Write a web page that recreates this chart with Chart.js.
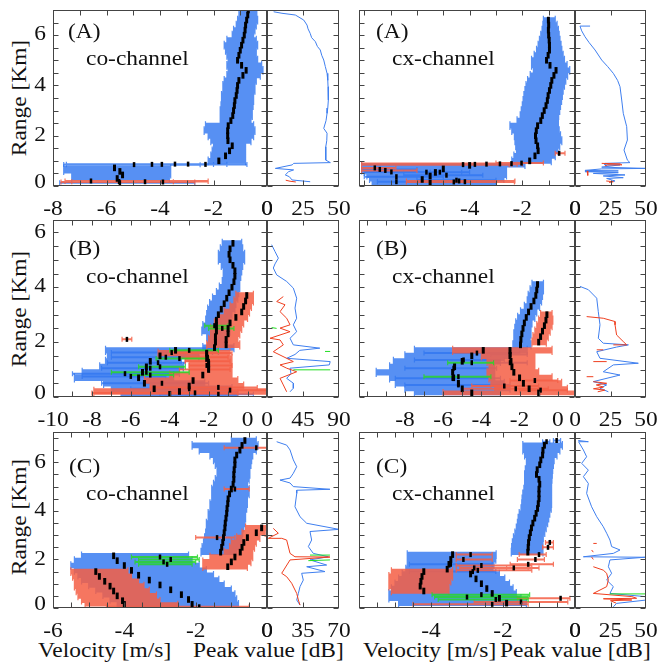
<!DOCTYPE html>
<html>
<head>
<meta charset="utf-8">
<script src="https://cdn.jsdelivr.net/npm/chart.js@4.4.1/dist/chart.umd.min.js"></script>
<style>
  body { margin: 0; background: #fff; }
  #wrap { position: relative; width: 661px; height: 669px; overflow: hidden; font-family: "Liberation Serif", serif; }
  #wrap canvas { position: absolute; left: 0; top: 0; }
  .t { position: absolute; font-size: 20px; line-height: 22px; color: #111; white-space: nowrap;
       transform: scaleX(1.17); transform-origin: left center; }
  .yt { position: absolute; font-size: 20px; line-height: 22px; color: #111; white-space: nowrap;
        width: 140px; text-align: center; transform: rotate(-90deg) scaleX(1.17); }
</style>
</head>
<body>
<div id="wrap">
  <div class="yt" style="left:-51px;top:87px">Range [Km]</div>
  <div class="yt" style="left:-51px;top:298px">Range [Km]</div>
  <div class="yt" style="left:-51px;top:506px">Range [Km]</div>
  <div class="t" style="left:38px;top:639px">Velocity [m/s]</div>
  <div class="t" style="left:193px;top:639px">Peak value [dB]</div>
  <div class="t" style="left:363px;top:639px">Velocity [m/s]</div>
  <div class="t" style="left:500px;top:639px">Peak value [dB]</div>
</div>
<script>
// rows are [range km, mean velocity, lower end, upper end]
// peak profiles are [peak dB, range km], null = gap

// ---- (A) co-channel ----
const aCoBlue = [
  [7.0,-0.7,-1.0,-0.4],[6.8,-0.72,-1.05,-0.38],[6.6,-0.76,-1.1,-0.35],[6.4,-0.8,-1.15,-0.4],
  [6.2,-0.82,-1.25,-0.45],[6.0,-0.85,-1.3,-0.5],[5.8,-0.9,-1.5,-0.4],[5.6,-0.95,-1.6,-0.35],
  [5.4,-1.0,-1.55,-0.4],[5.2,-1.05,-1.5,-0.4],[5.0,-1.1,-1.45,-0.35],[4.8,-0.95,-1.5,-0.2],
  [4.6,-0.78,-1.45,-0.15],[4.4,-0.9,-1.5,-0.25],[4.2,-1.05,-1.6,-0.4],[4.0,-1.1,-1.65,-0.45],
  [3.8,-1.12,-1.65,-0.45],[3.6,-1.15,-1.7,-0.5],[3.4,-1.2,-1.7,-0.5],[3.2,-1.22,-1.72,-0.52],
  [3.0,-1.25,-1.75,-0.55],[2.8,-1.28,-1.75,-0.55],[2.6,-1.35,-1.75,-0.6],[2.4,-1.45,-2.3,-0.5],
  [2.2,-1.47,-2.35,-0.45],[2.0,-1.47,-2.2,-0.5],[1.8,-1.46,-2.1,-0.6],[1.6,-1.3,-2.0,-0.8],
  [1.4,-1.4,-2.05,-0.8],[1.2,-1.55,-2.1,-0.8],[1.0,-1.8,-2.2,-0.8]
];
const aCoBlueLow = [[0.72,-5.7,-7.6,-3.6],[0.58,-5.5,-7.6,-3.6],[0.44,-5.4,-7.3,-3.6],[0.30,-5.6,-7.3,-3.65]];
const aCoBlueSp = [
  [0.86,-2.3,-7.6,-0.75],[0.87,-2.95,-7.5,-1.5],[0.87,-3.44,-7.5,-1.5],[0.86,-3.93,-7.5,-1.5],
  [0.86,-4.3,-7.5,-2.0],[0.85,-4.97,-7.5,-2.5],[0.13,-5.5,-7.75,-2.7]
];
const aCoRedSp = [[0.2,-6.58,-7.55,-2.2],[0.18,-5.53,-7.55,-2.2],[0.17,-4.56,-7.3,-3.5],[0.16,-3.89,-7.7,-2.7]];
const aCoPeakBlue = [
  [4.6,6.93],[10.4,6.87],[19.7,6.8],[25.5,6.6],[27.8,6.4],[28.5,6.25],[30,6.07],[31,5.9],[33.6,5.74],
  [35,5.55],[37,5.41],[38,5.2],[39.4,5.01],[40.5,4.75],[41.7,4.48],[42.2,4.2],[42.4,3.95],[42.6,3.7],
  [42.6,3.42],[42.2,3.1],[41.7,2.89],[41,2.6],[39.4,2.29],[41.7,2.1],[41.5,1.8],[40.8,1.56],[40.8,1.3],
  [40.8,1.03],[44,0.93],[18.5,0.9],[17.5,0.84],[5.8,0.70],[18.5,0.64],[15,0.57],[12.7,0.44],[15.5,0.37],
  [17.4,0.24],[30,0.17]
];
const aCoPeakRed = [[13,0.23],[16,0.19],[20,0.16]];

// ---- (A) cx-channel ----
const aCxBlue = [
  [6.6,-1.01,-1.2,-0.75],[6.4,-1.0,-1.22,-0.68],[6.2,-1.01,-1.25,-0.63],[6.0,-1.0,-1.3,-0.6],
  [5.8,-0.98,-1.35,-0.57],[5.6,-0.97,-1.4,-0.53],[5.4,-0.97,-1.46,-0.5],[5.2,-1.02,-1.55,-0.45],
  [5.0,-1.08,-1.65,-0.4],[4.8,-0.95,-1.65,-0.3],[4.6,-0.72,-1.58,-0.2],[4.4,-0.8,-1.7,-0.28],
  [4.2,-0.88,-1.8,-0.35],[4.0,-0.92,-1.86,-0.4],[3.8,-0.97,-1.9,-0.45],[3.6,-1.02,-1.94,-0.48],
  [3.4,-1.05,-1.97,-0.51],[3.2,-1.1,-2.0,-0.55],[3.0,-1.17,-2.04,-0.58],[2.8,-1.24,-2.08,-0.62],
  [2.6,-1.3,-2.2,-0.63],[2.4,-1.42,-2.47,-0.63],[2.2,-1.47,-2.4,-0.6],[2.0,-1.5,-2.3,-0.55],
  [1.8,-1.48,-2.28,-0.5],[1.6,-1.42,-2.25,-0.58],[1.4,-1.4,-2.22,-0.65],[1.2,-1.52,-2.32,-0.75],
  [1.0,-1.72,-2.4,-0.9]
];
const aCxBlueLow = [[0.82,-4.0,-8.1,-1.9],[0.68,-5.0,-8.1,-2.6],[0.54,-5.3,-8.0,-2.6],[0.40,-5.5,-7.9,-2.6],[0.26,-5.8,-7.8,-2.7],[0.12,-5.5,-7.7,-3.0]];
const aCxBlueSp = [
  [0.66,-7.41,-8.1,-6.0],[0.56,-6.97,-8.1,-5.5],[0.37,-6.78,-8.0,-5.0],[0.55,-5.64,-7.0,-4.3],
  [0.55,-5.13,-6.5,-4.0],[0.43,-4.88,-6.5,-3.5],[0.23,-4.5,-6.0,-3.0],[0.17,-4.18,-6.0,-3.0],[0.17,-6.78,-7.5,-5.5]
];
const aCxRedSp = [
  [0.91,-2.03,-3.0,-1.2],[0.89,-2.41,-8.1,-2.0],[0.88,-2.85,-8.1,-2.0],[0.87,-3.36,-8.1,-2.2],
  [0.86,-3.8,-8.1,-2.4],[0.85,-4.25,-8.1,-2.5],[0.72,-7.6,-8.1,-6.8],[0.62,-7.2,-8.1,-6.0],
  [0.2,-4.4,-6.4,-2.28],[0.16,-4.6,-6.4,-2.3],[1.3,-0.6,-0.75,-0.38]
];
const aCxPeakBlue = [
  [10.6,6.36],[3.5,6.36],[4.7,6.17],[7,5.94],[10,5.7],[14.1,5.41],[18.8,5.01],[23,4.75],[27,4.48],
  [30,4.2],[31.7,3.95],[32.9,3.42],[34,2.89],[36.4,2.36],[36.9,1.83],[34.5,1.43],[36.9,1.03],[38.7,0.93],
  [21.1,0.9],[21.1,0.84],[31.7,0.84],[18.8,0.75],[50,0.70],[18.8,0.68],[7,0.62],[30.5,0.60],[7,0.57],
  [30.5,0.53],[12.9,0.50],[35.2,0.44],[19.9,0.40],[34,0.33],[22.3,0.30],[28.2,0.20],[25,0.17]
];
const aCxPeakRed = [[18.8,0.90],[31.7,0.88],[33,0.84],[23,0.84],[21,0.80],null,[8.5,0.6],[9,0.5],[9,0.42],null,[22,0.2],[27,0.17],[24,0.14]];

// ---- (B) co-channel ----
const bCoBlue = [
  [5.6,-0.75,-1.3,-0.3],[5.4,-0.9,-1.4,-0.25],[5.2,-0.95,-1.5,-0.15],[5.0,-0.9,-1.5,-0.15],
  [4.8,-0.75,-1.35,-0.25],[4.6,-0.65,-1.25,-0.3],[4.4,-0.65,-1.25,-0.35],[4.2,-0.7,-1.3,-0.4],
  [4.0,-0.8,-1.45,-0.4],[3.8,-0.95,-1.6,-0.45],[3.6,-1.07,-1.8,-0.5],[3.4,-1.2,-1.95,-0.6],
  [3.2,-1.35,-2.05,-0.65],[3.0,-1.5,-2.1,-0.8],[2.8,-1.6,-2.15,-0.9],[2.6,-1.6,-2.3,-0.9],
  [2.4,-1.6,-2.35,-0.9],[2.2,-1.65,-2.1,-1.0],[2.0,-1.65,-2.05,-1.05],[1.8,-1.7,-2.3,-0.7]
];
const bCoBlueLow = [
  [1.7,-3.7,-7.3,-1.5],[1.5,-4.5,-7.2,-2.5],[1.3,-5.0,-7.3,-3.4],[1.1,-5.2,-7.6,-3.3],[0.9,-5.4,-8.5,-3.5],
  [0.7,-5.6,-8.9,-3.8],[0.5,-5.3,-7.4,-2.2],[0.3,-4.8,-7.0,-0.8],[0.1,-4.0,-6.5,-0.5]
];
const bCoRed = [
  [3.7,-0.04,-0.6,0.3],[3.5,-0.1,-0.7,0.3],[3.3,-0.2,-0.9,0.2],[3.1,-0.3,-1.2,0.1],[2.9,-0.6,-1.5,0.0],
  [2.7,-0.9,-1.7,-0.2],[2.5,-1.0,-1.9,-0.3],[2.3,-1.0,-1.9,-0.4],[2.1,-1.1,-2.0,-0.5],[1.9,-1.1,-2.1,-0.4]
];
const bCoRedLow = [
  [1.6,-2.1,-4.6,-0.9],[1.4,-2.1,-3.2,-0.8],[1.2,-2.0,-3.0,-0.8],[1.0,-2.0,-3.0,-0.8],
  [0.8,-2.3,-4.0,-0.8],[0.6,-2.8,-5.3,-0.5],[0.4,-3.0,-5.0,-0.2],[0.2,-3.5,-7.9,1.0]
];
const bCoBlueSp = [
  [1.62,-3.9,-7.0,-1.8],[1.45,-4.2,-7.0,-2.5],[1.25,-4.6,-7.2,-3.2],[1.05,-5.0,-7.5,-3.3],
  [0.85,-6.3,-9.0,-3.8],[0.75,-6.0,-8.5,-4.2],[0.5,-4.4,-7.5,-2.0],[0.3,-3.0,-6.0,-1.0],[0.1,-1.5,-4.5,0.3]
];
const bCoRedSp = [
  [1.6,-2.1,-4.0,-0.8],[1.45,-2.05,-3.5,-1.0],[1.3,-2.0,-3.2,-0.9],[1.15,-2.1,-3.0,-0.8],
  [1.0,-2.0,-3.5,-0.9],[0.35,-1.5,-5.0,0.5],[0.25,-0.9,-3.0,1.0],[0.15,-2.7,-8.0,-0.5],[2.1,-6.2,-6.45,-5.95]
];
const bCoGreen = [
  [2.6,-1.7,-2.2,-1.0],[2.5,-1.3,-2.0,-0.7],[1.7,-3.0,-4.0,-1.5],[1.4,-3.5,-4.7,-2.0],
  [1.1,-4.5,-5.6,-3.2],[0.9,-5.2,-7.0,-3.0],[0.8,-5.0,-6.0,-3.8]
];
const bCoPeakBlue = [
  [5.8,5.55],[10,5.3],[14.2,5.06],[10,4.85],[7.9,4.7],[12.1,4.45],[24.6,4.21],[32.9,3.97],[37.1,3.6],
  [35,3.24],[37.1,2.87],[32.9,2.63],[37.1,2.38],[28.8,2.14],[32.9,1.9],[66,1.78],[41,1.7],[35,1.55],
  [24.6,1.41],[79,1.29],[77.9,1.17],[28.8,1.05],[30,0.85],[24.6,0.68],[33,0.5],[32.9,0.32],[28.8,0.19]
];
const bCoPeakRed = [
  [20.4,3.66],[12.1,3.48],[22.5,3.36],[16.3,3.11],[24.6,2.87],[28.8,2.63],[16.3,2.51],[28.8,2.38],
  [3.75,2.14],[16.3,2.08],[20.4,1.9],[7.9,1.65],[24.6,1.41],[32.9,1.29],[16.3,1.17],[24.6,1.05],
  [37.1,0.92],[16.3,0.68],[20.4,0.44],[24.6,0.19]
];
const bCoPeakGreen = [[5.8,2.53],[12,2.5],null,[72.5,1.66],[79,1.66],null,[32.9,0.99],[79,0.99]];

// ---- (B) cx-channel ----
const bCxBlue = [
  [4.1,-1.06,-1.35,-0.75],[3.9,-1.1,-1.45,-0.75],[3.7,-1.15,-1.55,-0.8],[3.5,-1.25,-1.6,-0.85],
  [3.3,-1.4,-1.75,-0.95],[3.1,-1.53,-1.95,-1.1],[2.9,-1.65,-2.1,-1.2],[2.7,-1.75,-2.2,-1.35],
  [2.5,-1.82,-2.25,-1.4],[2.3,-1.88,-2.3,-1.4],[2.1,-1.93,-2.3,-1.45],[1.9,-1.95,-2.35,-1.4]
];
const bCxRed = [[3.0,-0.57,-0.9,-0.3],[2.8,-0.62,-1.0,-0.26],[2.6,-0.7,-1.1,-0.3],[2.4,-0.8,-1.2,-0.4],[2.2,-0.9,-1.3,-0.5],[2.0,-1.0,-1.35,-0.6]];
const bCxBlueLow = [
  [1.7,-3.9,-7.5,-1.6],[1.5,-4.5,-8.0,-2.5],[1.3,-5.0,-8.6,-3.0],[1.1,-5.4,-8.8,-3.3],[0.9,-5.5,-9.5,-3.3],
  [0.7,-5.45,-8.8,-3.3],[0.5,-5.2,-8.5,-2.8],[0.3,-5.0,-8.0,-2.5],[0.15,-4.5,-7.5,-3.0]
];
const bCxRedLow = [
  [1.7,-2.5,-5.5,-0.3],[1.5,-2.5,-4.0,-1.2],[1.3,-2.45,-3.7,-1.2],[1.1,-2.4,-3.6,-1.2],[0.9,-2.3,-3.7,-1.0],
  [0.7,-2.0,-3.6,-0.3],[0.5,-1.8,-3.5,0.2],[0.3,-1.5,-3.3,0.5],[0.15,-1.0,-6.0,0.9]
];
const bCxBlueSp = [
  [1.6,-4.23,-7.0,-2.0],[1.35,-4.93,-7.5,-2.8],[1.05,-5.45,-8.0,-3.2],[0.68,-5.5,-8.5,-3.0],
  [0.44,-5.2,-8.0,-2.5],[1.55,-2.49,-3.5,-1.6],[1.25,-2.5,-3.5,-1.6]
];
const bCxRedSp = [[0.6,-1.2,-2.5,0.0],[0.4,-2.8,-4.5,-1.0],[0.25,-0.9,-2.0,0.5],[0.3,-2.2,-5.0,-0.5]];
const bCxGreen = [[1.25,-4.5,-5.76,-3.36],[0.74,-5.2,-7.0,-3.5]];
const bCxPeakBlue = [
  [3.5,4.03],[9.4,3.91],[15.3,3.6],[16.4,3.11],[17.6,2.63],[16.4,2.14],[19.9,1.96],[37.6,1.90],[29.3,1.82],
  [15.3,1.65],[17.6,1.41],[44.6,1.23],[27,1.17],[19.9,0.92],[31.7,0.8],[12.9,0.56],[22.3,0.44],[17.6,0.32],[23.5,0.19]
];
const bCxPeakRed = [
  [8.2,2.93],[19.9,2.87],[28.2,2.75],[28.2,2.63],[29.3,2.26],[34,2.02],[36.4,1.9],[27,1.9],null,
  [15.3,1.72],[19.9,1.72],null,[12.9,1.29],[22.3,1.29],null,[8.2,0.74],[12.9,0.74],null,
  [12.9,0.56],[22.3,0.5],[15,0.44],[20,0.36],[13,0.3],[21,0.25],[16,0.19]
];

// ---- (C) co-channel ----
const cCoBlue = [
  [6.9,-0.62,-1.0,-0.3],[6.7,-0.7,-2.1,-0.25],[6.5,-0.76,-1.9,-0.3],[6.3,-0.85,-1.6,-0.4],
  [6.1,-0.9,-1.5,-0.43],[5.9,-0.9,-1.45,-0.45],[5.7,-0.92,-1.4,-0.48],[5.5,-0.93,-1.4,-0.48],
  [5.3,-0.93,-1.45,-0.5],[5.1,-0.95,-1.5,-0.55],[4.9,-1.0,-1.55,-0.5],[4.7,-1.05,-1.55,-0.5],
  [4.5,-1.09,-1.55,-0.55],[4.3,-1.1,-1.6,-0.55],[4.1,-1.12,-1.6,-0.57],[3.9,-1.13,-1.65,-0.6],
  [3.7,-1.15,-1.65,-0.6],[3.5,-1.17,-1.7,-0.62],[3.3,-1.18,-1.7,-0.65],[3.1,-1.2,-1.72,-0.68],
  [2.9,-1.22,-1.75,-0.7],[2.7,-1.24,-1.78,-0.72],[2.5,-1.27,-1.82,-0.75],[2.3,-1.3,-1.85,-0.85]
];
const cCoBlueLow = [
  [2.15,-4.3,-5.2,-2.2],[1.95,-4.2,-5.4,-2.1],[1.75,-4.0,-5.5,-1.9],[1.55,-3.8,-5.4,-1.7],
  [1.35,-3.6,-5.3,-1.5],[1.15,-3.3,-5.2,-1.35],[0.95,-3.0,-5.0,-1.2],[0.75,-2.7,-4.8,-1.0],
  [0.55,-2.4,-4.6,-0.9],[0.35,-2.2,-4.4,-0.85],[0.15,-2.1,-4.2,-0.8]
];
const cCoRedLow = [
  [1.5,-4.8,-5.5,-3.9],[1.3,-4.7,-5.45,-3.8],[1.1,-4.55,-5.4,-3.6],[0.9,-4.4,-5.4,-3.45],
  [0.7,-4.3,-5.35,-3.3],[0.5,-4.2,-5.3,-3.1],[0.3,-4.05,-5.2,-3.0],[0.15,-4.0,-5.1,-2.5]
];
const cCoRed = [
  [3.3,-0.15,-0.6,0.0],[3.1,-0.3,-0.7,-0.05],[2.9,-0.55,-0.85,-0.2],[2.7,-0.65,-1.0,-0.3],
  [2.5,-0.7,-1.05,-0.35],[2.3,-0.75,-1.2,-0.4],[2.1,-0.9,-1.6,-0.4],[1.9,-1.0,-1.8,-0.45],[1.7,-1.1,-1.8,-0.55]
];
const cCoRedSp = [[6.6,-0.3,-1.2,0.0],[4.9,-0.9,-1.2,-0.5],[2.9,-1.4,-2.0,-0.9],[0.05,-1.9,-4.5,-0.5]];
const cCoGreen = [[2.1,-3.0,-3.8,-1.95],[2.0,-2.7,-3.6,-1.9],[1.9,-2.9,-3.7,-2.0],[1.8,-2.8,-3.6,-2.1]];
const cCoPeakBlue = [
  [9.4,6.85],[19.1,6.71],[22.4,6.51],[25.6,6.1],[28.9,5.82],[25.6,5.55],[22.4,5.35],[12.6,5.27],
  [22.4,5.15],[25.6,5.0],[61.2,4.89],[28.9,4.85],[28.9,4.72],[27.2,4.17],[32.1,3.76],[38.6,3.49],
  [70,3.24],[41.8,3.15],[43.4,2.80],[40.2,2.53],[45,2.25],[59.6,2.11],[41.8,1.98],[58,1.77],[38.6,1.70],
  [56.4,1.50],[33.7,1.43],[35.3,1.15],[32.1,0.88],[30.5,0.60],[28.9,0.33],[32.1,0.12]
];
const cCoPeakRed = [
  [6.1,3.28],[11,3.08],[1.3,2.87],[14.3,2.87],[19.1,2.80],[22.4,2.25],[27.2,2.11],[61.2,2.10],[22.4,1.98],
  [14.3,1.43],[19.1,1.29],[24,1.02],[28.9,0.60],[30.5,0.33],[32.1,0.12]
];
const cCoPeakGreen = [[41.8,2.18],[61.2,2.18],null,[40.2,1.95],[61.2,1.98]];

// ---- (C) cx-channel ----
const cCxBlue = [
  [6.7,-0.85,-1.45,-0.35],[6.5,-0.89,-1.45,-0.42],[6.3,-0.9,-1.4,-0.5],[6.1,-0.95,-1.35,-0.58],
  [5.9,-0.98,-1.35,-0.6],[5.7,-1.05,-1.38,-0.62],[5.5,-1.07,-1.4,-0.63],[5.3,-1.0,-1.4,-0.64],
  [5.1,-0.98,-1.4,-0.65],[4.9,-1.0,-1.42,-0.65],[4.7,-1.0,-1.45,-0.65],[4.5,-1.0,-1.47,-0.65],
  [4.3,-1.02,-1.48,-0.65],[4.1,-1.04,-1.5,-0.66],[3.9,-1.08,-1.55,-0.7],[3.7,-1.12,-1.58,-0.73],
  [3.5,-1.17,-1.6,-0.76],[3.3,-1.21,-1.63,-0.8],[3.1,-1.24,-1.67,-0.84],[2.9,-1.27,-1.71,-0.88],
  [2.7,-1.29,-1.74,-0.89],[2.5,-1.3,-1.76,-0.89],[2.3,-1.31,-1.77,-0.89]
];
const cCxBlueLow = [
  [2.2,-3.4,-4.66,-2.19],[2.0,-3.45,-4.66,-2.2],[1.8,-3.5,-4.66,-2.25],[1.6,-3.55,-4.7,-2.28],
  [1.4,-2.9,-4.8,-2.1],[1.2,-2.75,-4.9,-1.95],[1.0,-2.6,-5.0,-1.82],[0.8,-2.45,-5.1,-1.72],
  [0.6,-2.3,-5.17,-1.63],[0.4,-2.1,-5.17,-1.5],[0.2,-1.9,-4.9,-1.35]
];
const cCxRedLow = [[1.5,-4.2,-5.1,-3.4],[1.3,-4.25,-5.17,-3.4],[1.1,-4.28,-5.17,-3.45],[0.9,-4.3,-5.17,-3.5],[0.7,-4.2,-5.1,-3.5]];
const cCxBlueSp = [[6.85,-0.79,-0.9,-0.7],[6.9,-0.51,-0.6,-0.4],[1.8,-3.45,-4.6,-2.3],[1.5,-2.84,-4.6,-2.2]];
const cCxRedSp = [
  [2.2,-2.9,-3.3,-2.3],[2.0,-3.1,-3.3,-2.3],[1.75,-2.6,-3.3,-1.2],[1.65,-2.8,-3.2,-1.3],[1.55,-2.7,-3.3,-1.2],
  [2.7,-0.7,-0.82,-0.6],[2.5,-0.75,-0.9,-0.6],[2.2,-1.0,-1.55,-0.8],[2.0,-1.1,-1.6,-0.85],[1.8,-1.3,-1.8,-0.6],
  [1.65,-1.7,-1.9,-1.0],[0.4,-0.4,-1.6,-0.14],[0.25,-1.5,-2.8,-0.2],[0.15,-2.3,-4.5,-1.3]
];
const cCxGreen = [[0.55,-2.6,-3.97,-1.26],[0.45,-3.0,-3.9,-1.3],[0.35,-2.2,-3.8,-1.3]];
const cCxPeakBlue = [
  [2.3,6.9],[9.4,6.85],[2.5,6.85],[5.9,6.51],[8.2,6.23],[4.7,5.96],[9.4,5.68],[5.9,5.41],[9.4,5.13],
  [8.2,4.72],[11.7,4.17],[15.3,3.76],[19.9,3.35],[22.3,3.08],[24.6,2.80],[25.8,2.53],[31.7,2.39],[27,2.25],
  [5.9,2.11],[49.3,2.09],[24.6,1.98],[23.5,1.70],[25.8,1.43],[22.3,1.15],[27,0.88],[24.6,0.60],[49.3,0.47],
  [50.4,0.33],[29.3,0.19],[27,0.05]
];
const cCxPeakRed = [
  [12.9,2.66],[15.3,2.66],null,[11.7,2.39],[12.9,2.3],null,[11.7,2.1],[12.9,2.0],null,
  [12.9,1.7],[19.9,1.56],[22.3,1.43],[23.5,1.15],[22.3,0.88],[12.9,0.60],[40,0.47],[43.4,0.40],
  [20,0.38],[40,0.33],[25,0.3],[29,0.2]
];
const cCxPeakGreen = [[24.6,0.58],[50.4,0.58]];

// ---- helpers ----
const BLUE = 'rgba(50,120,240,0.82)';
const RED = 'rgba(245,95,70,0.86)';
const GREEN = 'rgba(40,215,40,0.85)';
const LBLUE = '#3f7fef', LRED = '#ef3f1f', LGREEN = '#22dd22';
const SX = 1.17; // text is a bit wider than the serif font

const toRows = rows => rows.map(([r, m, lo, hi]) => ({x: m, y: r, lo, hi}));
const toLine = pts => pts.map(p => p ? {x: p[0], y: p[1]} : {x: null, y: null});

function barSet(rows, color, band) {
  return {
    data: toRows(rows), bars: band ? 'band' : 'thin', barColor: color,
    showLine: false, pointStyle: 'line', pointRotation: 90,
    pointRadius: band ? 3.3 : 2.5, pointBorderWidth: band ? 3 : 2.5,
    pointBorderColor: '#000', pointBackgroundColor: '#000'
  };
}
function peakSet(pts, color) {
  return { data: toLine(pts), showLine: true, borderColor: color, borderWidth: 1, pointRadius: 0 };
}

// horizontal error bars drawn through the chart scales; one fill per dataset so rows merge cleanly
const errorBars = {
  id: 'errorBars',
  beforeDatasetsDraw(chart) {
    const {ctx, chartArea: a, scales: {x, y}} = chart;
    ctx.save();
    ctx.beginPath();
    ctx.rect(a.left, a.top, a.width, a.height);
    ctx.clip();
    chart.data.datasets.forEach(ds => {
      if (!ds.bars) return;
      const pts = ds.data;
      ctx.beginPath();
      pts.forEach((p, i) => {
        const py = y.getPixelForValue(p.y);
        let h = 2;
        if (ds.bars === 'band') {
          const gaps = [];
          if (pts[i - 1]) gaps.push(Math.abs(pts[i - 1].y - p.y));
          if (pts[i + 1]) gaps.push(Math.abs(pts[i + 1].y - p.y));
          h = Math.abs(y.getPixelForValue(0) - y.getPixelForValue(Math.min(...gaps))) + 0.8;
        }
        const x0 = x.getPixelForValue(p.lo), x1 = x.getPixelForValue(p.hi);
        ctx.rect(x0, py - h / 2, x1 - x0, h);
        ctx.rect(x0 - 0.6, py - h / 2 - 1.5, 1.2, h + 3);
        ctx.rect(x1 - 0.6, py - h / 2 - 1.5, 1.2, h + 3);
      });
      ctx.fillStyle = ds.barColor;
      ctx.fill('nonzero');
    });
    ctx.restore();
  }
};

function text(ctx, s, px, py, align) {
  ctx.save();
  ctx.translate(px, py);
  ctx.scale(SX, 1);
  ctx.textAlign = align;
  ctx.fillText(s, 0, 0);
  ctx.restore();
}

function makeFrame(p) {
  return {
    id: 'frame',
    afterDraw(chart) {
      const {ctx, chartArea: a, scales: {x, y}} = chart;
      ctx.save();
      ctx.strokeStyle = '#444';
      ctx.lineWidth = 1;
      const L = Math.round(a.left) + 0.5, R = Math.round(a.right) - 0.5;
      const T = Math.round(a.top) + 0.5, B = Math.round(a.bottom) - 0.5;
      ctx.strokeRect(L, T, R - L, B - T);
      ctx.beginPath();
      p.xTicks.forEach(v => {
        const px = Math.round(x.getPixelForValue(v)) + 0.5;
        ctx.moveTo(px, B); ctx.lineTo(px, B - 5);
        ctx.moveTo(px, T); ctx.lineTo(px, T + 5);
      });
      for (let v = p.y[0]; v <= p.y[1] + 1e-6; v += 0.5) {
        const py = Math.round(y.getPixelForValue(v)) + 0.5;
        ctx.moveTo(L, py); ctx.lineTo(L + 5, py);
        ctx.moveTo(R, py); ctx.lineTo(R - 5, py);
      }
      ctx.stroke();
      ctx.fillStyle = '#111';
      ctx.font = '20px "Liberation Serif", serif';
      ctx.textBaseline = 'middle';
      p.xLabels.forEach(v => text(ctx, String(v), x.getPixelForValue(v), a.bottom + 24, 'center'));
      (p.yLabels || []).forEach(v => text(ctx, String(v), a.left - 7, y.getPixelForValue(v) - (v === 0 ? 3 : 0), 'right'));
      ctx.restore();
    }
  };
}

function ticksEvery(min, max, step) {
  const out = [];
  for (let v = Math.ceil(min / step) * step; v <= max + 1e-6; v += step) out.push(v);
  return out;
}

function makeChart(p) {
  const c = document.createElement('canvas');
  c.width = 661; c.height = 669;
  c.style.width = '661px'; c.style.height = '669px';
  document.getElementById('wrap').appendChild(c);
  const [x0, y0, x1, y1] = p.box;
  new Chart(c, {
    type: 'scatter',
    data: { datasets: p.datasets },
    options: {
      responsive: false, animation: false, events: [],
      layout: { padding: { left: x0, top: y0, right: 661 - x1, bottom: 669 - y1 } },
      plugins: { legend: { display: false }, tooltip: { enabled: false } },
      scales: {
        x: { type: 'linear', min: p.x[0], max: p.x[1], display: false },
        y: { type: 'linear', min: p.y[0], max: p.y[1], display: false }
      }
    },
    plugins: [errorBars, makeFrame(p)]
  });
}

const rowA = [0, 7], rowB = [0, 6.45], rowC = [0, 7.25];
const panels = [
  // row A
  { box: [53, 10, 267, 186], x: [-8, 0], y: rowA, xTicks: ticksEvery(-8, 0, 1), xLabels: [-8, -6, -4, -2, 0], yLabels: [0, 2, 4, 6],
    datasets: [barSet(aCoBlue, BLUE, true), barSet(aCoBlueLow, BLUE, true), barSet(aCoBlueSp, BLUE, false), barSet(aCoRedSp, RED, false)] },
  { box: [267, 10, 339, 186], x: [0, 50], y: rowA, xTicks: [25], xLabels: [0, 25, 50],
    datasets: [peakSet(aCoPeakRed, LRED), peakSet(aCoPeakBlue, LBLUE)] },
  { box: [359, 10, 575, 186], x: [-8.2, 0], y: rowA, xTicks: ticksEvery(-8.2, 0, 1), xLabels: [-6, -4, -2, 0],
    datasets: [barSet(aCxBlue, BLUE, true), barSet(aCxBlueLow, BLUE, true), barSet(aCxBlueSp, BLUE, false), barSet(aCxRedSp, RED, false)] },
  { box: [575, 10, 646, 186], x: [0, 50], y: rowA, xTicks: [25], xLabels: [0, 25, 50],
    datasets: [peakSet(aCxPeakRed, LRED), peakSet(aCxPeakBlue, LBLUE)] },
  // row B
  { box: [53, 220, 267, 397], x: [-10, 1], y: rowB, xTicks: ticksEvery(-10, 1, 1), xLabels: [-10, -8, -6, -4, -2, 0], yLabels: [0, 2, 4, 6],
    datasets: [barSet(bCoBlue, BLUE, true), barSet(bCoBlueLow, BLUE, true), barSet(bCoBlueSp, BLUE, false),
               barSet(bCoRed, RED, true), barSet(bCoRedLow, RED, true), barSet(bCoRedSp, RED, false), barSet(bCoGreen, GREEN, false)] },
  { box: [267, 220, 339, 397], x: [0, 90], y: rowB, xTicks: [45], xLabels: [0, 45, 90],
    datasets: [peakSet(bCoPeakGreen, LGREEN), peakSet(bCoPeakRed, LRED), peakSet(bCoPeakBlue, LBLUE)] },
  { box: [359, 220, 575, 397], x: [-10.4, 0.9], y: rowB, xTicks: ticksEvery(-10.4, 0.9, 1), xLabels: [-8, -6, -4, -2, 0],
    datasets: [barSet(bCxBlue, BLUE, true), barSet(bCxBlueLow, BLUE, true), barSet(bCxBlueSp, BLUE, false),
               barSet(bCxRed, RED, true), barSet(bCxRedLow, RED, true), barSet(bCxRedSp, RED, false), barSet(bCxGreen, GREEN, false)] },
  { box: [575, 220, 646, 397], x: [0, 50], y: rowB, xTicks: [25], xLabels: [0, 25, 50],
    datasets: [peakSet(bCxPeakRed, LRED), peakSet(bCxPeakBlue, LBLUE)] },
  // row C
  { box: [53, 432, 267, 608], x: [-6, 0], y: rowC, xTicks: ticksEvery(-6, 0, 0.5), xLabels: [-6, -4, -2, 0], yLabels: [0, 2, 4, 6],
    datasets: [barSet(cCoBlue, BLUE, true), barSet(cCoBlueLow, BLUE, true), barSet(cCoRed, RED, true),
               barSet(cCoRedLow, RED, true), barSet(cCoRedSp, RED, false), barSet(cCoGreen, GREEN, false)] },
  { box: [267, 432, 339, 608], x: [0, 70], y: rowC, xTicks: [35], xLabels: [0, 35, 70],
    datasets: [peakSet(cCoPeakGreen, LGREEN), peakSet(cCoPeakRed, LRED), peakSet(cCoPeakBlue, LBLUE)] },
  { box: [359, 432, 575, 608], x: [-6, 0], y: rowC, xTicks: ticksEvery(-6, 0, 0.5), xLabels: [-4, -2, 0],
    datasets: [barSet(cCxBlue, BLUE, true), barSet(cCxBlueLow, BLUE, true), barSet(cCxBlueSp, BLUE, false),
               barSet(cCxRedLow, RED, true), barSet(cCxRedSp, RED, false), barSet(cCxGreen, GREEN, false)] },
  { box: [575, 432, 646, 608], x: [0, 50], y: rowC, xTicks: [25], xLabels: [0, 25, 50],
    datasets: [peakSet(cCxPeakGreen, LGREEN), peakSet(cCxPeakRed, LRED), peakSet(cCxPeakBlue, LBLUE)] }
];
panels.forEach(makeChart);

// panel captions as real text
const captions = [
  ['(A)', 68, 20], ['co-channel', 86, 47], ['(A)', 376, 20], ['cx-channel', 392, 47],
  ['(B)', 69, 237], ['co-channel', 86, 265], ['(B)', 376, 237], ['cx-channel', 392, 265],
  ['(C)', 69, 455], ['co-channel', 86, 482], ['(C)', 376, 455], ['cx-channel', 392, 482]
];
captions.forEach(([s, l, t]) => {
  const d = document.createElement('div');
  d.className = 't';
  d.style.left = l + 'px';
  d.style.top = t + 'px';
  d.style.zIndex = 5;
  d.textContent = s;
  document.getElementById('wrap').appendChild(d);
});
</script>
</body>
</html>
